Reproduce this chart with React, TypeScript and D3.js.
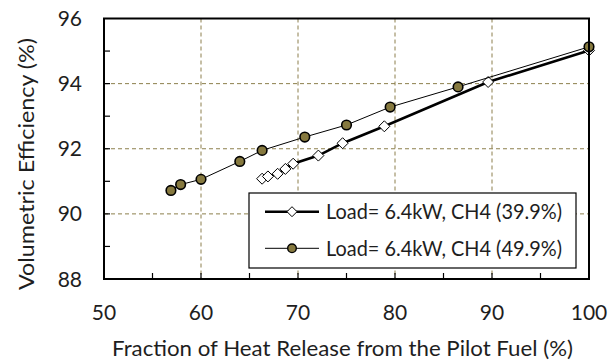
import React from "react";
import * as d3 from "d3";

const xTicks = [50, 60, 70, 80, 90, 100];
const yTicks = [88, 90, 92, 94, 96];
const xGrid = [60, 70, 80, 90];
const yGrid = [90, 92, 94];

const seriesNames = ["Load= 6.4kW, CH4 (39.9%)", "Load= 6.4kW, CH4 (49.9%)"];
const fraction399 = [66.3, 66.9, 67.9, 68.7, 69.5, 72.1, 74.6, 78.9, 89.6, 100];
const eff399 = [91.08, 91.15, 91.23, 91.38, 91.54, 91.79, 92.17, 92.69, 94.05, 95.02];
const fraction499 = [56.9, 57.9, 60.0, 64.0, 66.3, 70.7, 75.0, 79.5, 86.5, 100];
const eff499 = [90.72, 90.9, 91.06, 91.61, 91.95, 92.36, 92.73, 93.28, 93.9, 95.13];

const W = 615, H = 360;
const L = 104, R = 589, T = 18.5, B = 279;
const FONT = "Lato, 'Open Sans', sans-serif";
const GRID = "#8c7f4c";
const OLIVE = "#86793f";

export default function App() {
  const x = d3.scaleLinear().domain([50, 100]).range([L, R]);
  const y = d3.scaleLinear().domain([88, 96]).range([B, T]);
  const line = d3.line<number[]>().x(d => x(d[0])).y(d => y(d[1]));
  const s1 = fraction399.map((v, i) => [v, eff399[i]]);
  const s2 = fraction499.map((v, i) => [v, eff499[i]]);
  const minorX = d3.range(55, 100, 5);
  const minorY = d3.range(89, 96, 1);
  const diamond = (cx: number, cy: number, r = 5.5) =>
    `M${cx},${cy - r}L${cx + r},${cy}L${cx},${cy + r}L${cx - r},${cy}Z`;

  const legX = 249, legY = 193, legW = 327, legH = 75;
  const rows = [211.7, 248.3];

  return (
    <svg width={W} height={H} style={{ position: "absolute", left: 0, top: 0, background: "#fff" }} fontFamily={FONT}>
      <rect x={0} y={0} width={W} height={H} fill="#fff" />
      {xGrid.map(v => (
        <line key={"gx" + v} x1={x(v)} x2={x(v)} y1={T} y2={B} stroke={GRID} strokeWidth={1} strokeDasharray="4,3" />
      ))}
      {yGrid.map(v => (
        <line key={"gy" + v} x1={L} x2={R} y1={y(v)} y2={y(v)} stroke={GRID} strokeWidth={1} strokeDasharray="4,3" />
      ))}
      {minorX.map(v => (
        <line key={"tx" + v} x1={x(v)} x2={x(v)} y1={B} y2={B - 6} stroke="#000" strokeWidth={1.2} />
      ))}
      {minorY.map(v => (
        <line key={"ty" + v} x1={L} x2={L + 6} y1={y(v)} y2={y(v)} stroke="#000" strokeWidth={1.2} />
      ))}
      <path d={line(s1) || ""} fill="none" stroke="#000" strokeWidth={2.6} />
      {s1.map((d, i) => (
        <path key={"d" + i} d={diamond(x(d[0]), y(d[1]))} fill="#fff" stroke="#000" strokeWidth={1} />
      ))}
      <path d={line(s2) || ""} fill="none" stroke="#000" strokeWidth={1} />
      {s2.map((d, i) => (
        <circle key={"c" + i} cx={x(d[0])} cy={y(d[1])} r={4.8} fill={OLIVE} stroke="#000" strokeWidth={1.6} />
      ))}
      <rect x={L} y={T} width={R - L} height={B - T} fill="none" stroke="#000" strokeWidth={2} />
      <rect x={legX} y={legY} width={legW} height={legH} fill="#fff" stroke="#000" strokeWidth={1.2} />
      <line x1={265} x2={319} y1={rows[0]} y2={rows[0]} stroke="#000" strokeWidth={2.6} />
      <path d={diamond(292, rows[0], 5)} fill="#fff" stroke="#000" strokeWidth={1} />
      <line x1={265} x2={319} y1={rows[1]} y2={rows[1]} stroke="#000" strokeWidth={1} />
      <circle cx={292} cy={rows[1]} r={4.3} fill={OLIVE} stroke="#000" strokeWidth={1.4} />
      {seriesNames.map((n, i) => (
        <text key={n} x={326} y={rows[i]} dy="0.36em" fontSize={21} fill="#1e1e1e" textLength={236} lengthAdjust="spacingAndGlyphs">{n}</text>
      ))}
      {xTicks.map(v => (
        <text key={"xl" + v} x={x(v)} y={320} textAnchor="middle" fontSize={21} fill="#1e1e1e">{v}</text>
      ))}
      {yTicks.map(v => (
        <text key={"yl" + v} x={82} y={y(v)} dy="0.36em" textAnchor="end" fontSize={21} fill="#1e1e1e">{v}</text>
      ))}
      <text x={342.5} y={355.5} textAnchor="middle" fontSize={22} fill="#1e1e1e" textLength={461} lengthAdjust="spacingAndGlyphs">
        Fraction of Heat Release from the Pilot Fuel (%)
      </text>
      <text transform={`translate(34,164) rotate(-90)`} textAnchor="middle" fontSize={22} fill="#1e1e1e" textLength={252} lengthAdjust="spacingAndGlyphs">
        Volumetric Efficiency (%)
      </text>
    </svg>
  );
}
